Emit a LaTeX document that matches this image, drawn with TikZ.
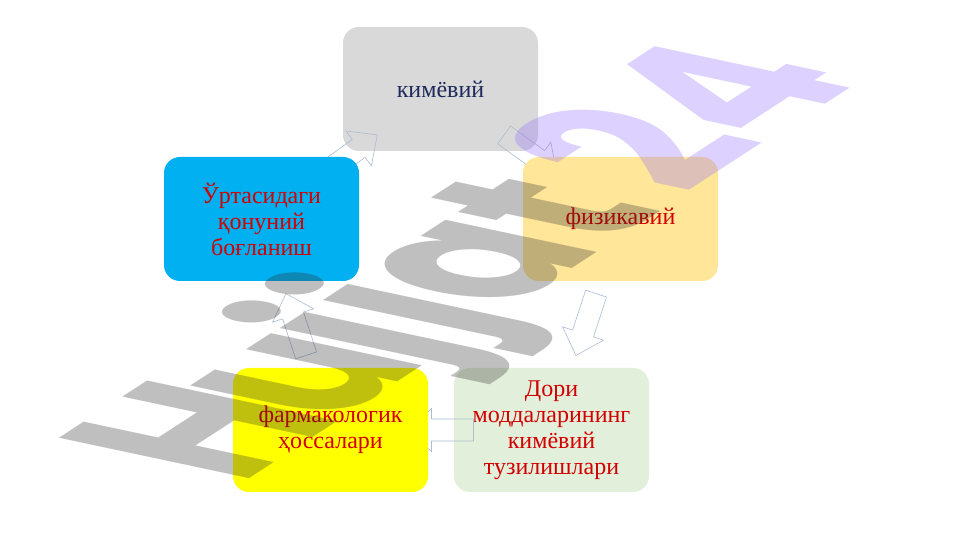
\documentclass[tikz,border=0pt]{standalone}
\usepackage{fontspec}
\setmainfont{Liberation Serif}
\newfontfamily\wmfont{Poppins}
\usetikzlibrary{calc}
\pgfdeclarelayer{back}
\pgfdeclarelayer{mid}
\pgfdeclarelayer{front}
\pgfsetlayers{back,mid,main,front}
\definecolor{boxgrey}{RGB}{217,217,217}
\definecolor{boxblue}{RGB}{0,176,240}
\definecolor{boxorange}{RGB}{255,230,153}
\definecolor{boxyellow}{RGB}{255,255,0}
\definecolor{boxgreen}{RGB}{226,239,218}
\definecolor{txtred}{RGB}{210,0,0}
\definecolor{txtnavy}{RGB}{31,42,92}
\definecolor{arrowcol}{RGB}{172,188,212}
\definecolor{wmgrey}{RGB}{45,45,45}
\definecolor{wmpurple}{RGB}{145,105,255}
\tikzset{
  box/.style={rectangle, rounded corners=16pt, minimum width=195pt, minimum height=124pt,
    inner sep=0pt, align=center, font=\fontsize{24}{26}\selectfont, text=txtred},
  arrowline/.style={draw=arrowcol, line width=0.6pt, line join=miter},
  barrow/.pic={\path[arrowline] (-32.5,-11) -- (9.5,-11) -- (9.5,-21.5) -- (32.5,0)
     -- (9.5,21.5) -- (9.5,11) -- (-32.5,11) -- cycle;}
}
\newcommand\cyclearrow[2]{%
  \path let \p1=(#1.center), \p2=(#2.center), \n1={atan2(\y2-\y1,\x2-\x1)} in
    ($(#1.center)!0.5!(#2.center)$) pic[rotate=\n1] {barrow};}
\begin{document}
\begin{tikzpicture}[x=1pt,y=1pt]
\useasboundingbox (0,0) rectangle (961,540);
\begin{pgfonlayer}{back}
\fill[white] (0,0) rectangle (961,540);
\node[box, fill=boxgrey, text=txtnavy] (chem) at (440.5,451) {кимёвий};
\node[box, fill=boxgreen] (drug) at (551.5,110) {Дори\\моддаларининг\\кимёвий\\тузилишлари};
\end{pgfonlayer}
\node[box, fill=boxblue] (law) at (261.5,321) {Ўртасидаги\\қонуний\\боғланиш};
\node[box, fill=boxorange] (phys) at (620.5,321) {физикавий};
\node[box, fill=boxyellow] (pharm) at (330.5,110) {фармакологик\\ҳоссалари};
\begin{pgfonlayer}{mid}
\cyclearrow{law}{chem}
\cyclearrow{chem}{phys}
\cyclearrow{phys}{drug}
\cyclearrow{drug}{pharm}
\cyclearrow{pharm}{law}
\end{pgfonlayer}
\begin{pgfonlayer}{front}
\begin{scope}[cm={1.451,0.942,-2.709,0.576,(240,55.4)}]
\node[anchor=base west, inner sep=0pt, transform shape, text opacity=0.3,
  font=\wmfont\bfseries\fontsize{100}{100}\selectfont] (wm) at (0,0)
  {\textcolor{wmgrey}{H\kern-9pt u\kern-6pt jjat}\kern15pt\textcolor{wmpurple}{24}};
\end{scope}
\end{pgfonlayer}
\end{tikzpicture}
\end{document}
